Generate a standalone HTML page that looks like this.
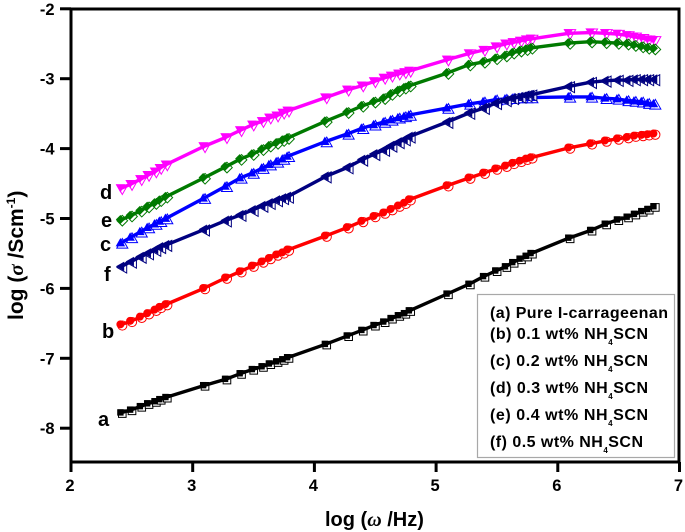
<!DOCTYPE html>
<html>
<head>
<meta charset="utf-8">
<style>
html,body{margin:0;padding:0;background:#fff;width:685px;height:532px;overflow:hidden}
svg{display:block;filter:blur(0.35px)}
text{font-family:"Liberation Sans",Arial,sans-serif;font-weight:bold;fill:#000}
</style>
</head>
<body>
<svg id="chart" width="685" height="532" viewBox="0 0 685 532" xmlns="http://www.w3.org/2000/svg">
<g id="marks"></g>
<g id="axes"></g>
<g font-size="20">
<text x="100" y="199">d</text>
<text x="101" y="227">e</text>
<text x="100" y="251">c</text>
<text x="104" y="281">f</text>
<text x="102" y="338">b</text>
<text x="98" y="426">a</text>
</g>
<g>
<rect x="477.5" y="294.5" width="197" height="163" fill="#fff" stroke="#a8a8a8" stroke-width="1.2"/>
<g font-size="16">
<text x="490" y="318" textLength="178" lengthAdjust="spacing">(a) Pure I-carrageenan</text>
<text x="490" y="339" textLength="158" lengthAdjust="spacing">(b) 0.1 wt% NH<tspan font-size="8" dy="6">4</tspan><tspan dy="-6">SCN</tspan></text>
<text x="490" y="366" textLength="158" lengthAdjust="spacing">(c) 0.2 wt% NH<tspan font-size="8" dy="6">4</tspan><tspan dy="-6">SCN</tspan></text>
<text x="490" y="393" textLength="158" lengthAdjust="spacing">(d) 0.3 wt% NH<tspan font-size="8" dy="6">4</tspan><tspan dy="-6">SCN</tspan></text>
<text x="490" y="420" textLength="158" lengthAdjust="spacing">(e) 0.4 wt% NH<tspan font-size="8" dy="6">4</tspan><tspan dy="-6">SCN</tspan></text>
<text x="490" y="447" textLength="153" lengthAdjust="spacing">(f) 0.5 wt% NH<tspan font-size="8" dy="6">4</tspan><tspan dy="-6">SCN</tspan></text>
</g>
</g>
<text x="325" y="526" font-size="20">log (<tspan font-family="Liberation Serif" font-style="italic">ω</tspan> /Hz)</text>
<text transform="translate(23,320) rotate(-90)" font-size="21">log (<tspan font-family="Liberation Serif" font-style="italic">σ</tspan> /Scm<tspan font-size="12" dy="-8">-1</tspan><tspan dy="8">)</tspan></text>
</svg>
<script>
const logFreq = [2.41,2.49,2.57,2.63,2.69,2.73,2.78,
  3.09,3.27,3.39,3.49,3.57,3.63,3.69,3.74,3.78,
  4.09,4.27,4.39,4.49,4.57,4.63,4.69,4.74,4.78,
  5.09,5.27,5.39,5.49,5.57,5.63,5.69,5.74,5.78,
  6.09,6.27,6.39,6.49,6.57,6.63,6.69,6.74,6.79];
const seriesA = [-7.78,-7.74,-7.69,-7.65,-7.62,-7.59,-7.56,
  -7.39,-7.30,-7.22,-7.16,-7.12,-7.08,-7.05,-7.02,-6.99,
  -6.80,-6.68,-6.60,-6.53,-6.48,-6.43,-6.39,-6.36,-6.32,
  -6.08,-5.94,-5.83,-5.75,-5.69,-5.63,-5.58,-5.54,-5.50,
  -5.28,-5.17,-5.08,-5.02,-4.98,-4.94,-4.90,-4.87,-4.83];
const seriesB = [-6.52,-6.47,-6.41,-6.36,-6.31,-6.27,-6.23,
  -6.00,-5.85,-5.76,-5.68,-5.62,-5.57,-5.52,-5.49,-5.45,
  -5.25,-5.13,-5.04,-4.97,-4.92,-4.87,-4.82,-4.78,-4.73,
  -4.53,-4.42,-4.35,-4.29,-4.25,-4.21,-4.18,-4.15,-4.13,
  -3.99,-3.93,-3.89,-3.86,-3.84,-3.82,-3.81,-3.80,-3.79];
const seriesC = [-5.35,-5.27,-5.19,-5.13,-5.08,-5.04,-5.00,
  -4.71,-4.54,-4.42,-4.35,-4.28,-4.23,-4.19,-4.15,-4.11,
  -3.90,-3.79,-3.71,-3.66,-3.62,-3.59,-3.56,-3.54,-3.52,
  -3.42,-3.36,-3.33,-3.30,-3.29,-3.28,-3.27,-3.27,-3.27,
  -3.26,-3.26,-3.28,-3.29,-3.31,-3.32,-3.33,-3.35,-3.36];
const seriesD = [-4.57,-4.51,-4.44,-4.38,-4.33,-4.28,-4.23,
  -3.97,-3.84,-3.74,-3.66,-3.61,-3.56,-3.53,-3.49,-3.46,
  -3.27,-3.16,-3.10,-3.04,-2.99,-2.96,-2.93,-2.91,-2.89,
  -2.73,-2.64,-2.59,-2.54,-2.50,-2.48,-2.46,-2.44,-2.43,
  -2.35,-2.34,-2.35,-2.36,-2.38,-2.40,-2.42,-2.44,-2.45];
const seriesE = [-5.02,-4.96,-4.89,-4.83,-4.78,-4.74,-4.69,
  -4.42,-4.26,-4.15,-4.08,-4.01,-3.96,-3.92,-3.88,-3.85,
  -3.61,-3.48,-3.39,-3.33,-3.28,-3.22,-3.17,-3.13,-3.10,
  -2.92,-2.80,-2.76,-2.71,-2.67,-2.63,-2.60,-2.58,-2.56,
  -2.49,-2.47,-2.48,-2.49,-2.50,-2.52,-2.54,-2.56,-2.57];
const seriesF = [-5.69,-5.62,-5.55,-5.50,-5.45,-5.41,-5.38,
  -5.16,-5.03,-4.95,-4.88,-4.82,-4.78,-4.74,-4.71,-4.69,
  -4.40,-4.27,-4.16,-4.08,-4.02,-3.96,-3.91,-3.87,-3.83,
  -3.62,-3.49,-3.42,-3.35,-3.31,-3.28,-3.26,-3.24,-3.23,
  -3.11,-3.05,-3.03,-3.02,-3.02,-3.01,-3.01,-3.01,-3.01];
const xTicks = [2,3,4,5,6,7];
const yTicks = [-2,-3,-4,-5,-6,-7,-8];

const xScale = v => 71 + (v - 2) * 121.7;
const yScale = v => 8.8 + (-2 - v) * 69.9;
const NS = 'http://www.w3.org/2000/svg';
const marks = document.getElementById('marks');
const axes = document.getElementById('axes');

function make(tag, attrs, parent) {
  const el = document.createElementNS(NS, tag);
  for (const k in attrs) el.setAttribute(k, attrs[k]);
  parent.appendChild(el);
  return el;
}

function markerShape(kind, x, y, s) {
  if (kind === 'circle') return ['circle', {cx: x, cy: y, r: s}];
  let p;
  if (kind === 'square') p = [[x-s,y-s],[x+s,y-s],[x+s,y+s],[x-s,y+s]];
  if (kind === 'diamond') p = [[x,y-s*1.3],[x+s*1.3,y],[x,y+s*1.3],[x-s*1.3,y]];
  if (kind === 'up') p = [[x,y-s*1.2],[x+s*1.25,y+s],[x-s*1.25,y+s]];
  if (kind === 'down') p = [[x,y+s*1.2],[x+s*1.25,y-s],[x-s*1.25,y-s]];
  if (kind === 'left') p = [[x-s*1.2,y],[x+s,y-s*1.25],[x+s,y+s*1.25]];
  return ['polygon', {points: p.map(q => q.join(',')).join(' ')}];
}

function drawSeries(name, values, color, kind, size) {
  const g = make('g', {}, marks);
  
  
  const pts = values.map((v, i) => xScale(logFreq[i]).toFixed(1) + ',' + yScale(v).toFixed(1)).join(' ');
  logFreq.forEach((f, i) => {
    const x = xScale(f), y = yScale(values[i]);
    const hollow = markerShape(kind, x + 1.4, y + 0.8, size + 0.4);
    make(hollow[0], Object.assign({fill: '#fff', 'fill-opacity': 0.85, stroke: color, 'stroke-width': 1}, hollow[1]), g);
  });
  logFreq.forEach((f, i) => {
    const x = xScale(f), y = yScale(values[i]);
    const solid = markerShape(kind, x - 0.5, y - 0.4, size - 0.2);
    make(solid[0], Object.assign({fill: color}, solid[1]), g);
  });
  const line = make('polyline', {points: pts, fill: 'none', stroke: color, 'stroke-width': 3.4, 'stroke-linejoin': 'round'}, g);
  
  
}

drawSeries('series-a', seriesA, '#000000', 'square', 3.4);
drawSeries('series-b', seriesB, '#ff0000', 'circle', 4.2);
drawSeries('series-c', seriesC, '#0000ff', 'up', 4);
drawSeries('series-d', seriesD, '#ff00ff', 'down', 4);
drawSeries('series-e', seriesE, '#007a00', 'diamond', 3.7);
drawSeries('series-f', seriesF, '#000080', 'left', 4);

const frame = make('rect', {x: 71, y: 9, width: 608, height: 453, fill: 'none', stroke: '#000', 'stroke-width': 3}, axes);



xTicks.forEach(t => {
  const x = xScale(t);
  const tick = make('line', {x1: x, x2: x, y1: 462, y2: 472, stroke: '#000', 'stroke-width': 3}, axes);
  
  
  const lab = make('text', {x: x - 1, y: 491, 'font-size': 16.5, 'text-anchor': 'middle'}, axes);
  lab.textContent = t;
  
  
});
yTicks.forEach(t => {
  const y = yScale(t);
  const tick = make('line', {x1: 60, x2: 71, y1: y, y2: y, stroke: '#000', 'stroke-width': 3}, axes);
  
  
  const lab = make('text', {x: 54.5, y: y + 6, 'font-size': 16.5, 'text-anchor': 'end'}, axes);
  lab.textContent = t;
  
  
});
</script>
</body>
</html>
